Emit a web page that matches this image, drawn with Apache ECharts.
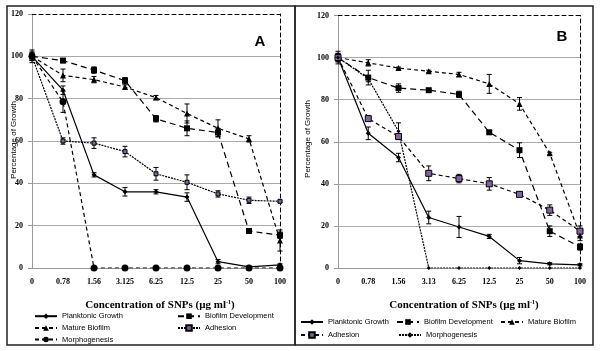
<!DOCTYPE html>
<html>
<head>
<meta charset="utf-8">
<script src="https://cdn.jsdelivr.net/npm/echarts@6/dist/echarts.min.js"></script>
<style>
    html, body { margin: 0; padding: 0; background: #fff; }
    #chart { width: 600px; height: 351px; }
</style>
</head>
<body>
<div id="chart"></div>
<script>
// x categories (concentration of SNPs, µg/ml)
const catsA = ['0', '0.78', '1.56', '3.125', '6.25', '12.5', '25', '50', '100'];
const catsB = ['0', '0.78', '1.56', '3.13', '6.25', '12.5', '25', '50', '100'];

// panel A - % growth
const planktonicA = [100, 84, 44, 36, 36, 33.5, 3, 0.5, 1.5];
const biofilmA = [100, 98, 93.5, 88.5, 70.5, 66, 64, 17.5, 15.5];
const matureA = [100, 91, 89, 85.5, 80.5, 73, 66, 61, 13];
const adhesionA = [100, 60, 59, 55, 44.5, 40.5, 35, 32, 31.5];
const morphA = [100, 78.5, 0, 0, 0, 0, 0, 0, 0];
// panel A - error bars
const planktonicAErr = [2, 2, 1, 2, 1, 2, 1, 0.5, 0.5];
const biofilmAErr = [1, 1, 1.5, 1.5, 1.5, 3.5, 2, 1, 1.5];
const matureAErr = [3, 3, 1.5, 1, 1, 4.5, 4, 1.5, 5];
const adhesionAErr = [1, 1.5, 2.5, 2.5, 3, 3.5, 1.5, 1.5, 0.5];
const morphAErr = [2, 5, 0, 0, 0, 0, 0, 0, 0];

// panel B - % growth
const planktonicB = [100, 64, 52.5, 24, 19.5, 15, 3.5, 2, 1.5];
const biofilmB = [100, 90.5, 85.5, 84.5, 82.5, 64.5, 56, 17.5, 10];
const matureB = [100, 97.5, 95, 93.5, 92, 87.5, 78, 54.5, 15.5];
const adhesionB = [100, 71, 62.5, 45, 42.5, 40, 35, 27.5, 17.5];
const morphB = [100, 90, 65, 0, 0, 0, 0, 0, 0];
// panel B - error bars
const planktonicBErr = [1, 3, 2, 3, 5, 1, 1.5, 0.5, 0.5];
const biofilmBErr = [2, 3.5, 2, 0.5, 1.5, 0.5, 3.5, 2.5, 1.5];
const matureBErr = [2, 1.5, 0.5, 0.5, 1, 4.5, 3, 0.5, 2.5];
const adhesionBErr = [3, 0.5, 1, 3.5, 2, 3, 1, 2.5, 2.5];
const morphBErr = [1, 1.5, 4, 0, 0, 0, 0, 0, 0];

const SERIF = '"Liberation Serif", "Times New Roman", serif';
const SANS = '"Liberation Sans", Arial, sans-serif';
const PURPLE = '#8064a2';

function lineSeries(name, data, g, st) {
    return {
        name: name,
        type: 'line',
        xAxisIndex: g * 2,
        yAxisIndex: g * 2,
        data: data,
        symbol: st.symbol,
        symbolSize: st.size,
        lineStyle: {color: '#000', width: 1.2, type: st.dash},
        itemStyle: {color: st.fill || '#000', borderColor: '#000', borderWidth: st.fill ? 1 : 0},
        z: 3
    };
}

function errSeries(vals, errs, g) {
    return {
        type: 'custom',
        xAxisIndex: g * 2,
        yAxisIndex: g * 2,
        silent: true,
        z: 2,
        data: vals.map((v, i) => [i, v, errs[i]]),
        renderItem: function (params, api) {
            const e = api.value(2);
            if (!e) return null;
            const v = api.value(1);
            const hi = api.coord([api.value(0), Math.min(120, v + e)]);
            const lo = api.coord([api.value(0), Math.max(0, v - e)]);
            const s = {stroke: '#000', lineWidth: 1};
            return {
                type: 'group', children: [
                    {type: 'line', shape: {x1: hi[0], y1: hi[1], x2: lo[0], y2: lo[1]}, style: s},
                    {type: 'line', shape: {x1: hi[0] - 2.5, y1: hi[1], x2: hi[0] + 2.5, y2: hi[1]}, style: s},
                    {type: 'line', shape: {x1: lo[0] - 2.5, y1: lo[1], x2: lo[0] + 2.5, y2: lo[1]}, style: s}
                ]
            };
        }
    };
}

function xAxes(cats, g) {
    return [{
        type: 'category', gridIndex: g, data: cats, boundaryGap: false,
        axisLine: {onZero: false, lineStyle: {color: '#999'}},
        axisTick: {show: false},
        axisLabel: {color: '#000', fontFamily: SERIF, fontWeight: 'bold', fontSize: 8, margin: 10}
    }, {
        type: 'category', gridIndex: g, data: cats, boundaryGap: false, position: 'top',
        axisLine: {onZero: false, lineStyle: {color: '#000', type: [4, 3]}},
        axisTick: {show: false}, axisLabel: {show: false}
    }];
}

function yAxes(g) {
    return [{
        type: 'value', gridIndex: g, min: 0, max: 120, interval: 20,
        axisLine: {show: true, lineStyle: {color: '#999'}},
        axisTick: {show: true, length: 4, lineStyle: {color: '#999'}},
        axisLabel: {color: '#000', fontFamily: SERIF, fontWeight: 'bold', fontSize: 8, margin: 9},
        splitLine: {show: true, showMinLine: false, showMaxLine: false, lineStyle: {color: '#aaa'}}
    }, {
        type: 'value', gridIndex: g, min: 0, max: 120, interval: 20, position: 'right',
        axisLine: {show: true, lineStyle: {color: '#000', type: [4, 3]}},
        axisTick: {show: false}, axisLabel: {show: false}, splitLine: {show: false}
    }];
}

function legendItem(name, left, cy) {
    return {
        data: [name], left: left, top: cy - 3.5, padding: 0,
        itemWidth: 22, itemHeight: 7, selectedMode: false,
        textStyle: {fontFamily: SANS, fontSize: 7.5, color: '#000'}
    };
}

// styles
const stA = {
    plank: {symbol: 'diamond', size: 5, dash: 'solid'},
    bio: {symbol: 'rect', size: 6, dash: [6, 4]},
    mature: {symbol: 'triangle', size: 6, dash: [4, 3]},
    adh: {symbol: 'rect', size: 4, dash: [2, 1], fill: PURPLE},
    morph: {symbol: 'circle', size: 7, dash: [4, 3]}
};
const stB = {
    plank: {symbol: 'diamond', size: 5, dash: 'solid'},
    bio: {symbol: 'rect', size: 6, dash: [6, 4]},
    mature: {symbol: 'triangle', size: 6, dash: [4, 3]},
    adh: {symbol: 'rect', size: 6, dash: [4, 3], fill: PURPLE},
    morph: {symbol: 'diamond', size: 4, dash: [2, 1]}
};

const series = [
    errSeries(planktonicA, planktonicAErr, 0),
    errSeries(biofilmA, biofilmAErr, 0),
    errSeries(matureA, matureAErr, 0),
    errSeries(adhesionA, adhesionAErr, 0),
    errSeries(morphA, morphAErr, 0),
    lineSeries('Planktonic Growth', planktonicA, 0, stA.plank),
    lineSeries('Biofilm Development', biofilmA, 0, stA.bio),
    lineSeries('Mature Biofilm', matureA, 0, stA.mature),
    lineSeries('Adhesion', adhesionA, 0, stA.adh),
    lineSeries('Morphogenesis', morphA, 0, stA.morph),
    errSeries(planktonicB, planktonicBErr, 1),
    errSeries(biofilmB, biofilmBErr, 1),
    errSeries(matureB, matureBErr, 1),
    errSeries(adhesionB, adhesionBErr, 1),
    errSeries(morphB, morphBErr, 1),
    // trailing space keeps panel B legend icons separate from panel A
    lineSeries('Planktonic Growth ', planktonicB, 1, stB.plank),
    lineSeries('Biofilm Development ', biofilmB, 1, stB.bio),
    lineSeries('Mature Biofilm ', matureB, 1, stB.mature),
    lineSeries('Adhesion ', adhesionB, 1, stB.adh),
    lineSeries('Morphogenesis ', morphB, 1, stB.morph)
];

const chart = echarts.init(document.getElementById('chart'));
chart.setOption({
    animation: false,
    backgroundColor: '#fff',
    grid: [
        {left: 32, top: 14, width: 248, height: 254},
        {left: 338, top: 15.5, width: 242, height: 252.5}
    ],
    xAxis: [...xAxes(catsA, 0), ...xAxes(catsB, 1)],
    yAxis: [...yAxes(0), ...yAxes(1)],
    legend: [
        legendItem('Planktonic Growth', 34, 315.7),
        legendItem('Biofilm Development', 177, 315.7),
        legendItem('Mature Biofilm', 34, 327.5),
        legendItem('Adhesion', 177, 327.5),
        legendItem('Morphogenesis', 34, 339),
        legendItem('Planktonic Growth ', 300, 321.5),
        legendItem('Biofilm Development ', 396, 321.5),
        legendItem('Mature Biofilm ', 500, 321.5),
        legendItem('Adhesion ', 300, 334.5),
        legendItem('Morphogenesis ', 398, 334.5)
    ],
    graphic: [
        {type: 'rect', shape: {x: 7, y: 6, width: 288, height: 339}, style: {fill: 'none', stroke: '#222', lineWidth: 1.5}, silent: true},
        {type: 'rect', shape: {x: 295, y: 6, width: 298, height: 339}, style: {fill: 'none', stroke: '#222', lineWidth: 1.5}, silent: true},
        {type: 'text', x: 260, y: 42, style: {text: 'A', font: 'bold 15px ' + SANS, fill: '#000', textAlign: 'center', textVerticalAlign: 'middle'}},
        {type: 'text', x: 562, y: 37, style: {text: 'B', font: 'bold 15px ' + SANS, fill: '#000', textAlign: 'center', textVerticalAlign: 'middle'}},
        {type: 'text', x: 14, y: 140, rotation: Math.PI / 2, style: {text: 'Percentage of Growth', font: '8px ' + SANS, fill: '#000', textAlign: 'center', textVerticalAlign: 'middle'}},
        {type: 'text', x: 308, y: 139, rotation: Math.PI / 2, style: {text: 'Percentage of Growth', font: '8px ' + SANS, fill: '#000', textAlign: 'center', textVerticalAlign: 'middle'}},
        {type: 'text', x: 160, y: 305, style: {
            text: 'Concentration of SNPs (\u00b5g ml{sup|-1})',
            rich: {sup: {fontSize: 6, fontFamily: SERIF, fontWeight: 'bold', verticalAlign: 'top', padding: [0, 0, 5, 0]}},
            font: 'bold 11px ' + SERIF, fill: '#000', textAlign: 'center', textVerticalAlign: 'middle'}},
        {type: 'text', x: 464, y: 305, style: {
            text: 'Concentration of SNPs (\u00b5g ml{sup|-1})',
            rich: {sup: {fontSize: 6, fontFamily: SERIF, fontWeight: 'bold', verticalAlign: 'top', padding: [0, 0, 5, 0]}},
            font: 'bold 11px ' + SERIF, fill: '#000', textAlign: 'center', textVerticalAlign: 'middle'}}
    ],
    series: series
});
</script>
</body>
</html>
